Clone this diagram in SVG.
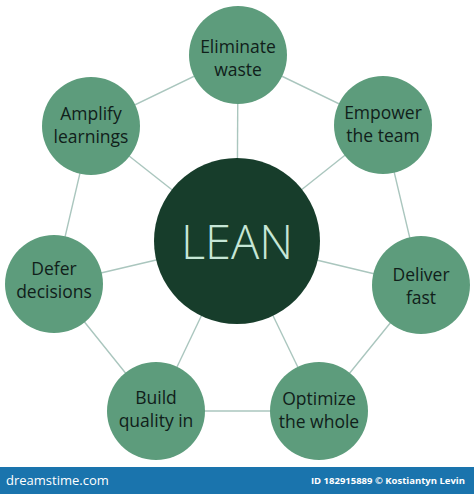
<svg xmlns="http://www.w3.org/2000/svg" width="474" height="494" viewBox="0 0 474 494">
<style>
.edge{stroke:#aac6be;stroke-width:1.4;fill:none}
.outer{fill:#5d9c7c}
.lbl{font-family:"Open Sans","Liberation Sans",sans-serif;font-size:17.5px;fill:#10201a;text-anchor:middle}
.center{fill:#173d2b}
.lean{font-family:"Open Sans","Liberation Sans",sans-serif;font-size:47px;fill:#c6e6d6;text-anchor:middle;font-weight:300}
.bar{fill:#1a74ad}
.bt{font-family:"Open Sans","Liberation Sans",sans-serif;fill:#ffffff}
</style>
<rect width="474" height="494" fill="#ffffff"/>
<g id="connectors">
<line class="edge" x1="237" y1="241" x2="238" y2="55"/>
<line class="edge" x1="237" y1="241" x2="383" y2="125"/>
<line class="edge" x1="237" y1="241" x2="421" y2="285"/>
<line class="edge" x1="237" y1="241" x2="319" y2="411"/>
<line class="edge" x1="237" y1="241" x2="156" y2="411"/>
<line class="edge" x1="237" y1="241" x2="54" y2="284"/>
<line class="edge" x1="237" y1="241" x2="91" y2="126"/>
<polygon class="edge" points="238,55 383,125 421,285 319,411 156,411 54,284 91,126"/>
</g>
<g id="lean">
<circle class="center" cx="237" cy="241" r="83"/>
<text class="lean" x="237" y="259">LEAN</text>
</g>
<g id="eliminate-waste">
<circle class="outer" cx="238" cy="55" r="49"/>
<text class="lbl" x="238" y="53">Eliminate</text>
<text class="lbl" x="238" y="76">waste</text>
</g>
<g id="empower-the-team">
<circle class="outer" cx="383" cy="125" r="49"/>
<text class="lbl" x="383" y="119">Empower</text>
<text class="lbl" x="383" y="142">the team</text>
</g>
<g id="deliver-fast">
<circle class="outer" cx="421" cy="285" r="49"/>
<text class="lbl" x="421" y="281">Deliver</text>
<text class="lbl" x="421" y="304">fast</text>
</g>
<g id="optimize-the-whole">
<circle class="outer" cx="319" cy="411" r="49"/>
<text class="lbl" x="319" y="405">Optimize</text>
<text class="lbl" x="319" y="428">the whole</text>
</g>
<g id="build-quality-in">
<circle class="outer" cx="156" cy="411" r="49"/>
<text class="lbl" x="156" y="404">Build</text>
<text class="lbl" x="156" y="427">quality in</text>
</g>
<g id="defer-decisions">
<circle class="outer" cx="54" cy="284" r="49"/>
<text class="lbl" x="54" y="275">Defer</text>
<text class="lbl" x="54" y="298">decisions</text>
</g>
<g id="amplify-learnings">
<circle class="outer" cx="91" cy="126" r="49"/>
<text class="lbl" x="91" y="120">Amplify</text>
<text class="lbl" x="91" y="143">learnings</text>
</g>
<g id="footer">
<rect class="bar" x="0" y="467" width="474" height="27"/>
<text class="bt" x="6" y="485" font-size="13">dreamstime.com</text>
<text class="bt" x="465" y="484" font-size="9.5" font-weight="bold" text-anchor="end">ID 182915889 © Kostiantyn Levin</text>
</g>
</svg>
